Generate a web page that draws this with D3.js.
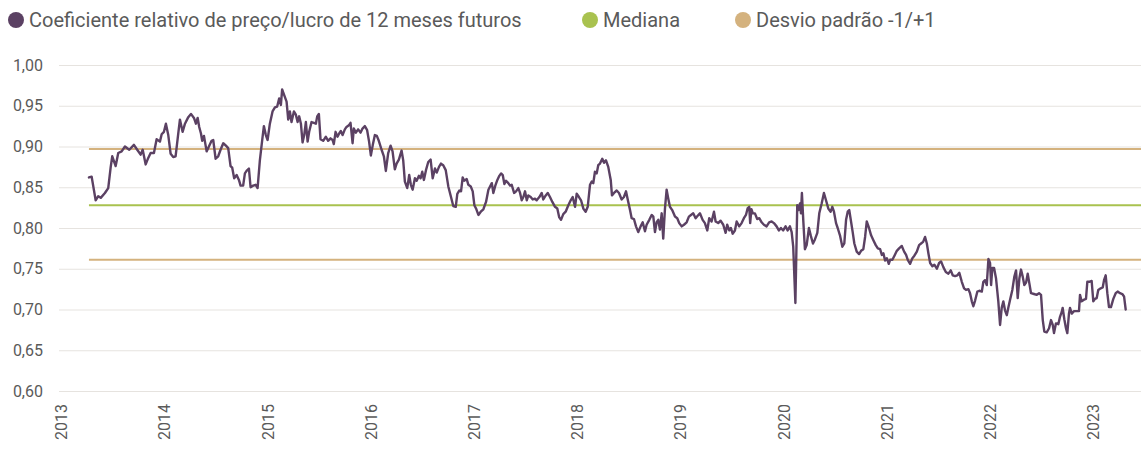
<!DOCTYPE html>
<html><head><meta charset="utf-8">
<script src="https://cdn.jsdelivr.net/npm/d3@7"></script>
<style>
body{margin:0;background:#fff}
svg{display:block}
text{font-family:Roboto, "Noto Sans", sans-serif;fill:#5a5a5a}
</style>
</head><body>
<svg id="chart" width="1141" height="450"></svg>
<script>
// decimal-year time stamps of the observations
const years = [2013.271,2013.297,2013.336,2013.361,2013.385,2013.426,2013.458,2013.482,2013.497,2013.530,2013.555,2013.588,2013.620,2013.662,2013.707,2013.739,2013.772,2013.792,2013.821,2013.846,2013.869,2013.901,2013.927,2013.959,2013.976,2013.998,2014.017,2014.040,2014.063,2014.088,2014.111,2014.137,2014.153,2014.179,2014.202,2014.234,2014.260,2014.289,2014.308,2014.325,2014.340,2014.357,2014.369,2014.386,2014.412,2014.434,2014.460,2014.476,2014.499,2014.524,2014.547,2014.573,2014.599,2014.621,2014.644,2014.660,2014.679,2014.703,2014.725,2014.741,2014.766,2014.783,2014.799,2014.822,2014.838,2014.863,2014.887,2014.906,2014.928,2014.951,2014.967,2014.986,2015.003,2015.025,2015.051,2015.074,2015.096,2015.115,2015.132,2015.144,2015.164,2015.187,2015.203,2015.219,2015.235,2015.258,2015.277,2015.294,2015.309,2015.326,2015.342,2015.358,2015.374,2015.391,2015.406,2015.429,2015.452,2015.471,2015.484,2015.500,2015.516,2015.542,2015.568,2015.590,2015.613,2015.633,2015.645,2015.662,2015.681,2015.697,2015.713,2015.730,2015.752,2015.768,2015.791,2015.807,2015.827,2015.839,2015.859,2015.881,2015.904,2015.923,2015.946,2015.968,2015.987,2016.004,2016.023,2016.043,2016.062,2016.081,2016.108,2016.130,2016.149,2016.172,2016.195,2016.214,2016.236,2016.253,2016.275,2016.301,2016.317,2016.333,2016.356,2016.375,2016.391,2016.408,2016.430,2016.447,2016.469,2016.485,2016.501,2016.517,2016.537,2016.559,2016.582,2016.602,2016.624,2016.641,2016.663,2016.682,2016.704,2016.728,2016.753,2016.779,2016.801,2016.825,2016.840,2016.859,2016.876,2016.892,2016.907,2016.931,2016.947,2016.970,2016.989,2017.005,2017.021,2017.044,2017.067,2017.092,2017.118,2017.141,2017.174,2017.189,2017.208,2017.228,2017.247,2017.264,2017.280,2017.296,2017.312,2017.334,2017.351,2017.367,2017.390,2017.409,2017.431,2017.448,2017.464,2017.480,2017.496,2017.513,2017.528,2017.551,2017.571,2017.593,2017.609,2017.635,2017.658,2017.673,2017.697,2017.716,2017.738,2017.761,2017.787,2017.809,2017.828,2017.845,2017.867,2017.890,2017.916,2017.939,2017.958,2017.981,2017.997,2018.019,2018.039,2018.061,2018.084,2018.104,2018.126,2018.143,2018.158,2018.174,2018.191,2018.206,2018.223,2018.245,2018.262,2018.281,2018.303,2018.327,2018.339,2018.359,2018.385,2018.407,2018.433,2018.455,2018.475,2018.497,2018.514,2018.530,2018.552,2018.572,2018.594,2018.617,2018.637,2018.659,2018.675,2018.701,2018.724,2018.740,2018.756,2018.772,2018.788,2018.804,2018.821,2018.836,2018.853,2018.869,2018.885,2018.901,2018.923,2018.950,2018.972,2018.991,2019.015,2019.037,2019.063,2019.085,2019.105,2019.127,2019.150,2019.170,2019.192,2019.218,2019.240,2019.263,2019.282,2019.305,2019.328,2019.344,2019.369,2019.392,2019.418,2019.441,2019.456,2019.476,2019.492,2019.509,2019.531,2019.548,2019.573,2019.596,2019.618,2019.638,2019.654,2019.670,2019.679,2019.691,2019.705,2019.725,2019.747,2019.767,2019.790,2019.812,2019.838,2019.863,2019.887,2019.909,2019.935,2019.957,2019.977,2019.999,2020.022,2020.042,2020.064,2020.081,2020.096,2020.117,2020.135,2020.148,2020.161,2020.171,2020.180,2020.193,2020.209,2020.226,2020.248,2020.267,2020.287,2020.306,2020.329,2020.348,2020.371,2020.393,2020.413,2020.435,2020.458,2020.474,2020.490,2020.510,2020.526,2020.548,2020.571,2020.590,2020.607,2020.623,2020.638,2020.655,2020.671,2020.687,2020.710,2020.733,2020.752,2020.774,2020.791,2020.807,2020.829,2020.849,2020.871,2020.894,2020.914,2020.936,2020.953,2020.968,2020.984,2021.001,2021.020,2021.033,2021.055,2021.075,2021.098,2021.120,2021.146,2021.169,2021.188,2021.204,2021.227,2021.249,2021.268,2021.292,2021.314,2021.333,2021.353,2021.372,2021.389,2021.404,2021.421,2021.443,2021.462,2021.486,2021.508,2021.527,2021.549,2021.573,2021.598,2021.621,2021.640,2021.663,2021.685,2021.704,2021.728,2021.750,2021.769,2021.792,2021.808,2021.825,2021.840,2021.857,2021.879,2021.898,2021.922,2021.937,2021.953,2021.970,2021.986,2022.002,2022.012,2022.024,2022.041,2022.060,2022.082,2022.099,2022.115,2022.131,2022.147,2022.164,2022.179,2022.196,2022.218,2022.237,2022.254,2022.270,2022.286,2022.302,2022.319,2022.334,2022.351,2022.367,2022.383,2022.399,2022.428,2022.455,2022.477,2022.496,2022.513,2022.528,2022.551,2022.574,2022.593,2022.610,2022.622,2022.641,2022.664,2022.680,2022.697,2022.706,2022.722,2022.738,2022.751,2022.767,2022.777,2022.794,2022.816,2022.842,2022.864,2022.874,2022.890,2022.913,2022.932,2022.945,2022.964,2022.987,2023.003,2023.019,2023.036,2023.051,2023.075,2023.094,2023.107,2023.123,2023.139,2023.155,2023.174,2023.197,2023.220,2023.239,2023.262,2023.284,2023.301,2023.317];

// relative forward 12-month P/E ratio
const values = [0.862,0.863,0.834,0.839,0.837,0.843,0.849,0.875,0.888,0.876,0.892,0.894,0.900,0.896,0.902,0.896,0.890,0.896,0.878,0.886,0.892,0.892,0.909,0.906,0.915,0.918,0.928,0.914,0.891,0.887,0.888,0.916,0.933,0.918,0.928,0.936,0.940,0.935,0.928,0.935,0.924,0.916,0.907,0.913,0.894,0.900,0.907,0.908,0.885,0.888,0.896,0.904,0.901,0.898,0.876,0.874,0.861,0.865,0.859,0.852,0.852,0.867,0.870,0.873,0.850,0.852,0.853,0.849,0.883,0.908,0.925,0.914,0.908,0.928,0.943,0.948,0.949,0.959,0.951,0.970,0.963,0.955,0.933,0.943,0.930,0.943,0.939,0.930,0.937,0.928,0.905,0.914,0.930,0.906,0.918,0.930,0.929,0.928,0.937,0.940,0.909,0.907,0.912,0.907,0.910,0.908,0.903,0.918,0.912,0.916,0.919,0.914,0.921,0.924,0.926,0.929,0.904,0.922,0.917,0.921,0.917,0.922,0.925,0.920,0.906,0.889,0.902,0.914,0.913,0.907,0.896,0.888,0.870,0.892,0.901,0.894,0.872,0.879,0.884,0.895,0.883,0.857,0.849,0.865,0.853,0.847,0.861,0.858,0.864,0.861,0.869,0.859,0.871,0.881,0.884,0.861,0.873,0.868,0.875,0.879,0.877,0.871,0.851,0.838,0.827,0.826,0.842,0.846,0.845,0.862,0.858,0.860,0.853,0.851,0.845,0.828,0.824,0.816,0.820,0.823,0.832,0.847,0.855,0.843,0.852,0.859,0.864,0.867,0.865,0.854,0.858,0.855,0.852,0.853,0.843,0.845,0.849,0.843,0.834,0.838,0.845,0.834,0.840,0.838,0.835,0.836,0.834,0.838,0.843,0.835,0.840,0.843,0.838,0.832,0.826,0.824,0.813,0.810,0.817,0.820,0.828,0.834,0.838,0.826,0.842,0.838,0.834,0.824,0.820,0.826,0.853,0.857,0.855,0.869,0.867,0.877,0.879,0.885,0.880,0.883,0.875,0.859,0.840,0.843,0.846,0.843,0.835,0.838,0.845,0.832,0.822,0.812,0.811,0.802,0.795,0.802,0.807,0.796,0.804,0.810,0.816,0.814,0.795,0.807,0.810,0.798,0.818,0.787,0.824,0.847,0.836,0.826,0.822,0.814,0.812,0.806,0.802,0.804,0.807,0.814,0.816,0.818,0.812,0.815,0.818,0.810,0.806,0.797,0.812,0.808,0.820,0.808,0.806,0.809,0.804,0.794,0.804,0.797,0.800,0.793,0.797,0.808,0.802,0.806,0.812,0.816,0.824,0.826,0.806,0.823,0.818,0.818,0.811,0.812,0.807,0.804,0.802,0.807,0.808,0.806,0.802,0.797,0.800,0.797,0.802,0.797,0.802,0.795,0.777,0.708,0.828,0.822,0.830,0.818,0.843,0.810,0.774,0.779,0.800,0.790,0.781,0.786,0.794,0.818,0.830,0.843,0.834,0.824,0.820,0.826,0.820,0.806,0.800,0.791,0.777,0.781,0.810,0.820,0.822,0.808,0.795,0.781,0.771,0.768,0.772,0.774,0.789,0.808,0.800,0.791,0.785,0.779,0.775,0.774,0.767,0.769,0.760,0.763,0.756,0.761,0.761,0.766,0.772,0.775,0.778,0.771,0.767,0.761,0.756,0.763,0.766,0.771,0.779,0.781,0.783,0.789,0.781,0.769,0.757,0.753,0.755,0.750,0.757,0.759,0.752,0.746,0.744,0.748,0.742,0.741,0.742,0.745,0.734,0.726,0.724,0.725,0.720,0.710,0.704,0.711,0.722,0.723,0.722,0.734,0.736,0.730,0.762,0.757,0.730,0.751,0.751,0.738,0.710,0.681,0.702,0.710,0.699,0.693,0.702,0.712,0.724,0.740,0.748,0.714,0.738,0.749,0.740,0.730,0.733,0.744,0.732,0.720,0.719,0.718,0.720,0.718,0.687,0.673,0.672,0.677,0.687,0.681,0.671,0.683,0.682,0.691,0.697,0.702,0.688,0.677,0.671,0.695,0.702,0.695,0.698,0.698,0.698,0.718,0.710,0.712,0.713,0.734,0.734,0.735,0.710,0.713,0.714,0.724,0.726,0.727,0.736,0.742,0.720,0.703,0.703,0.713,0.720,0.722,0.720,0.719,0.716,0.700];

const medianValue = 0.828;
const stdLow = 0.761;
const stdHigh = 0.897;
const yTicks = [0.60,0.65,0.70,0.75,0.80,0.85,0.90,0.95,1.00];
const xTickYears = [2013,2014,2015,2016,2017,2018,2019,2020,2021,2022,2023];
const legendLabels = ["Coeficiente relativo de preço/lucro de 12 meses futuros","Mediana","Desvio padrão -1/+1"];

const cLine = "#5b4163", cMedian = "#a9c24f", cStd = "#d4b27e", cGrid = "#e6e3df";

function toDate(yf){
  const yr = Math.floor(yf);
  const s = new Date(yr,0,1), e = new Date(yr+1,0,1);
  return new Date(+s + (yf-yr)*(e-s));
}
const data = years.map((t,i)=>({date:toDate(t), v:values[i]}));

const svg = d3.select("#chart");
const plotLeft = 59, plotRight = 1141;
const x = d3.scaleTime().domain([new Date(2013,0,1), new Date(2023,0,1)]).range([61,1093]);
const y = d3.scaleLinear().domain([0.60,1.00]).range([391,65]);

// y axis with gridlines
const fmt = d => d3.format(".2f")(d).replace(".", ",");
const yAxis = svg.append("g").attr("transform",`translate(${plotLeft},0)`)
  .call(d3.axisLeft(y).tickValues(yTicks).tickSize(-(plotRight-plotLeft)).tickPadding(16).tickFormat(fmt));
yAxis.select(".domain").remove();
yAxis.selectAll(".tick line").attr("stroke",cGrid).attr("stroke-width",1);
yAxis.selectAll(".tick text").attr("font-size",16).attr("fill","#5a5a5a").style("font-family","Roboto, sans-serif");

// x axis (rotated year labels)
const xAxis = svg.append("g").attr("transform","translate(0,0)")
  .call(d3.axisBottom(x).tickValues(xTickYears.map(yy=>new Date(yy,0,1))).tickSize(0).tickFormat(d3.timeFormat("%Y")));
xAxis.select(".domain").remove();
xAxis.selectAll(".tick text")
  .attr("transform","rotate(-90)")
  .attr("text-anchor","end")
  .attr("x",-404).attr("y",0).attr("dy","0.36em")
  .attr("font-size",16).attr("fill","#5a5a5a").style("font-family","Roboto, sans-serif");

// reference lines
const x0 = x(data[0].date);
[[stdHigh,cStd],[stdLow,cStd],[medianValue,cMedian]].forEach(([v,c])=>{
  svg.append("line").attr("x1",x0).attr("x2",plotRight).attr("y1",y(v)).attr("y2",y(v))
    .attr("stroke",c).attr("stroke-width",2);
});

// main series
svg.append("path").datum(data)
  .attr("fill","none").attr("stroke",cLine).attr("stroke-width",2.4)
  .attr("stroke-linejoin","round").attr("stroke-linecap","round")
  .attr("d", d3.line().x(d=>x(d.date)).y(d=>y(d.v)));

// legend
const legendPos = [16, 590, 743];
const legendColors = [cLine, cMedian, cStd];
legendLabels.forEach((lab,i)=>{
  const g = svg.append("g").attr("transform",`translate(${legendPos[i]},20)`);
  g.append("circle").attr("r",8).attr("fill",legendColors[i]);
  g.append("text").attr("x",13).attr("y",7).attr("font-size",20).attr("fill","#5a5a5a").text(lab);
});
</script>
</body></html>
